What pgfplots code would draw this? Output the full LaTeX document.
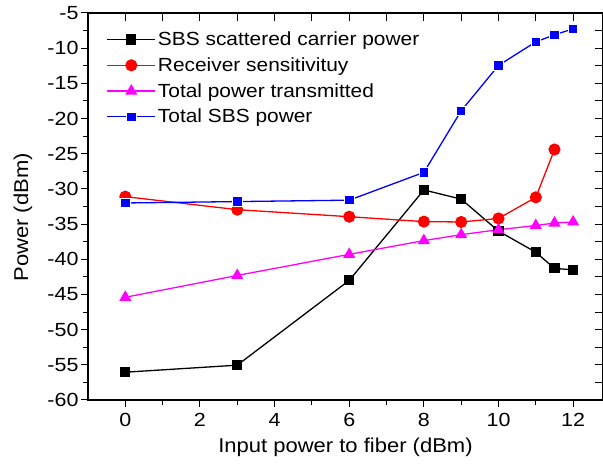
\documentclass[border=0pt]{standalone}
\usepackage{fontspec}
\setmainfont{Liberation Sans}[FakeStretch=1.1]
\newfontfamily\tickfont{Liberation Sans}[FakeStretch=1.13]
\usepackage{pgfplots}
\pgfplotsset{compat=1.18}
\definecolor{mag}{RGB}{255,0,255}
\definecolor{rd}{RGB}{255,0,0}
\definecolor{bl}{RGB}{0,0,255}
\begin{document}
\begin{tikzpicture}
\pgfplotsset{
 common/.style={scale only axis, width=515pt, height=387pt,
  xmin=-1, xmax=12.8, ymin=-60, ymax=-5,
  xtick={0,2,...,12}, ytick={-60,-55,...,-5},
  minor x tick num=1, minor y tick num=1,
  every tick/.style={black, line width=1pt},
  /pgf/number format/assume math mode=true,
  tick label style={font=\tickfont\fontsize{19}{22}\selectfont},
 }
}
\begin{axis}[common,
  axis line style={line width=1.2pt},
  xtick pos=left, ytick pos=left, tick align=outside,
  major tick length=7pt, minor tick length=5pt,
  xticklabel style={yshift=-3pt},
  yticklabel style={xshift=1pt},
  xlabel={Input power to fiber (dBm)},
  ylabel={Power (dBm)},
  label style={font=\fontsize{20}{24}\selectfont},
  xlabel style={at={(rel axis cs:0.5,0)}, anchor=center, yshift=-47pt},
  ylabel style={at={(rel axis cs:0,0.472)}, anchor=center, yshift=65pt},
  legend style={at={(rel axis cs:0.03,0.962)}, anchor=north west, draw=none, fill=none,
    font=\fontsize{19}{21}\selectfont, row sep=6.5pt, legend cell align=left},
  legend image code/.code={\draw[mark repeat=2,mark phase=2] plot coordinates {(0pt,0pt)(24pt,0pt)(48pt,0pt)};},
]
\addplot[black, line width=1.3pt, mark=square*, mark size=4.4pt, mark options={solid, fill=black}]
 coordinates {(0,-56.05) (3,-55.05) (6,-43.0) (8,-30.15) (9,-31.45) (10,-36.0) (11,-39.0) (11.5,-41.3) (12,-41.5)};
\addlegendentry{SBS scattered carrier power}
\addplot[rd, line width=1.3pt, mark=*, mark size=5.4pt, mark options={solid, fill=rd}]
 coordinates {(0,-31.1) (3,-32.95) (6,-33.95) (8,-34.65) (9,-34.7) (10,-34.2) (11,-31.2) (11.5,-24.4)};
\addlegendentry{Receiver sensitivituy}
\addplot[mag, line width=1.3pt, mark=triangle*, mark size=5.7pt, mark options={solid, fill=mag}]
 coordinates {(0,-45.4) (3,-42.3) (6,-39.3) (8,-37.35) (9,-36.5) (10,-35.8) (11,-35.2) (11.5,-34.85) (12,-34.7)};
\addlegendentry{Total power transmitted}
\addplot[bl, line width=1.3pt, mark=square*, mark size=4.7pt, mark options={solid, fill=bl, draw=white, line width=0.8pt}]
 coordinates {(0,-32.0) (3,-31.8) (6,-31.6) (8,-27.65) (9,-18.9) (10,-12.45) (11,-9.1) (11.5,-8.1) (12,-7.25)};
\addlegendentry{Total SBS power}
\end{axis}
\begin{axis}[common,
  axis line style={draw=none},
  xtick pos=right, ytick pos=right, tick align=inside,
  major tick length=8pt, minor tick length=8pt,
  xticklabels={}, yticklabels={},
]
\end{axis}
\pgfresetboundingbox
\path (current axis.south west) ++(-88pt,-71pt) rectangle ++(603pt,471pt);
\end{tikzpicture}
\end{document}
